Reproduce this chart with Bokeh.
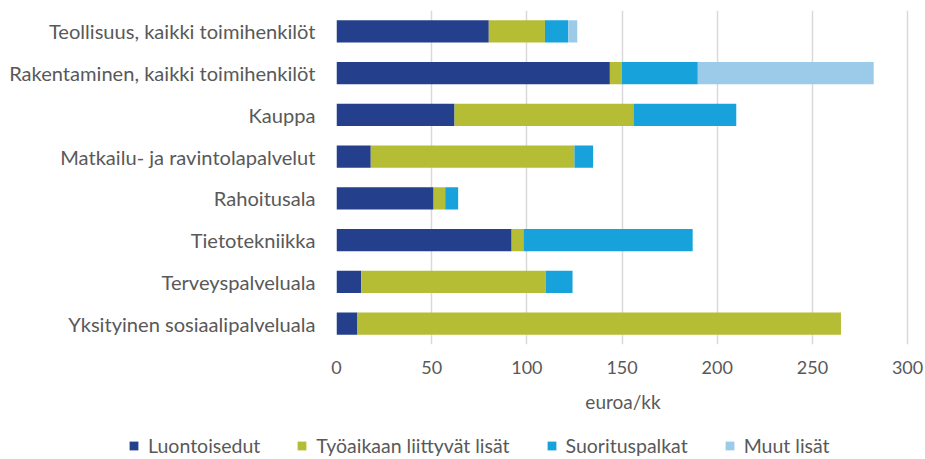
from bokeh.plotting import figure
from bokeh.models import Range1d, FactorRange, Legend, LegendItem, FixedTicker
from bokeh.embed import file_html
from bokeh.resources import INLINE

categories = [
    "Teollisuus, kaikki toimihenkilöt",
    "Rakentaminen, kaikki toimihenkilöt",
    "Kauppa",
    "Matkailu- ja ravintolapalvelut",
    "Rahoitusala",
    "Tietotekniikka",
    "Terveyspalveluala",
    "Yksityinen sosiaalipalveluala",
]
luontoisedut = [80, 143.6, 62, 18, 51, 92, 13, 11]
tyoaika = [29.5, 6.3, 94, 107, 6.1, 6.2, 97, 254]
suorituspalkat = [12.2, 39.9, 54, 9.8, 6.8, 88.9, 14, 0]
muut = [4.8, 92.4, 0, 0, 0, 0, 0, 0]
series_names = ["Luontoisedut", "Työaikaan liittyvät lisät", "Suorituspalkat", "Muut lisät"]
colors = ["#243F8C", "#B5BD35", "#17A2DC", "#9CCBEA"]
x_ticks = [0, 50, 100, 150, 200, 250, 300]

FONT = "Lato"
GREY = "#595959"
NAN = float("nan")

data = {
    "cat": categories,
    "s0": luontoisedut,
    "s1": tyoaika,
    "s2": suorituspalkat,
    "s3": muut,
}

p = figure(
    width=925, height=425,
    y_range=FactorRange(*list(reversed(categories))),
    x_range=Range1d(0, 301),
    output_backend="svg", toolbar_location=None,
    min_border_top=10, min_border_bottom=81, min_border_right=16, min_border_left=336,
)
p.outline_line_color = None

rs = p.hbar_stack(["s0", "s1", "s2", "s3"], y="cat", height=0.53, color=colors,
                  line_color=None, source=data)

p.xaxis.ticker = FixedTicker(ticks=x_ticks)
p.xaxis.axis_line_color = None
p.xaxis.major_tick_line_color = None
p.xaxis.minor_tick_line_color = None
p.xaxis.major_tick_out = 0
p.xaxis.major_label_text_font = FONT
p.xaxis.major_label_text_font_size = "18px"
p.xaxis.major_label_text_color = GREY
p.xaxis.major_label_standoff = 16
p.xaxis.axis_label = "euroa/kk"
p.xaxis.axis_label_text_font = FONT
p.xaxis.axis_label_text_font_size = "19px"
p.xaxis.axis_label_text_font_style = "normal"
p.xaxis.axis_label_text_color = GREY
p.xaxis.axis_label_standoff = 13

p.yaxis.axis_line_color = None
p.yaxis.major_tick_line_color = None
p.yaxis.minor_tick_line_color = None
p.yaxis.major_tick_out = 0
p.yaxis.major_label_text_font = FONT
p.yaxis.major_label_text_font_size = "20.1px"
p.yaxis.major_label_text_color = GREY
p.yaxis.major_label_standoff = 21

p.ygrid.grid_line_color = None
p.xgrid.grid_line_color = "#D9D9D9"
p.xgrid.grid_line_width = 1.5

# legend strip below the chart (separate root so it is not frame-aligned)
lg = figure(width=925, height=34, output_backend="svg", toolbar_location=None,
            min_border=0, x_range=Range1d(0, 1), y_range=Range1d(0, 1))
lg.axis.visible = False
lg.grid.visible = False
lg.outline_line_color = None
keys = [lg.hbar(y=[NAN], right=[NAN], height=1, color=c, line_color=None) for c in colors]

legend = Legend(
    items=[LegendItem(label=n, renderers=[r]) for n, r in zip(series_names, keys)],
    orientation="horizontal",
    location=(128, 2),
    label_text_font=FONT,
    label_text_font_size="19.5px",
    label_text_color=GREY,
    label_height=20,
    glyph_width=11, glyph_height=11,
    label_standoff=9,
    spacing=36,
    padding=0,
    margin=0,
    border_line_color=None,
    background_fill_alpha=0,
)
lg.add_layout(legend, "center")

open("out.html", "w").write(file_html([p, lg], INLINE))
